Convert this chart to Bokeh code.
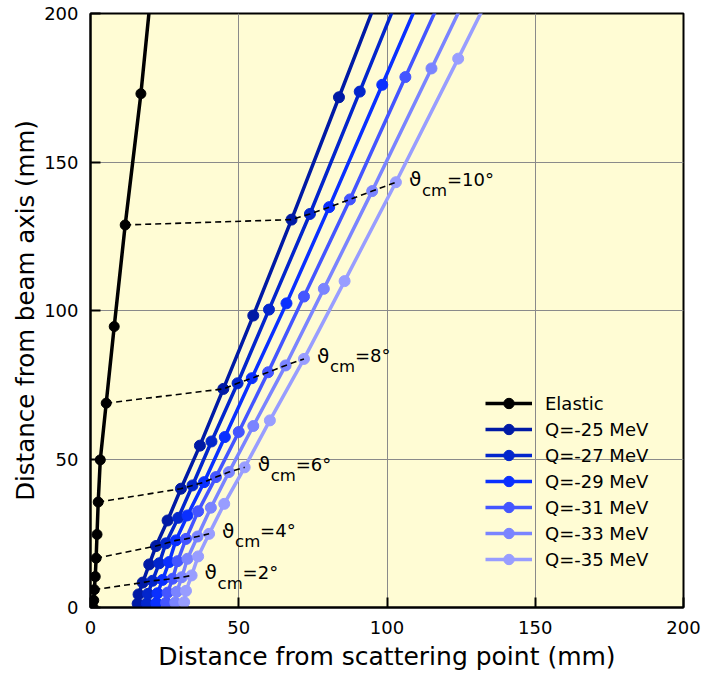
from bokeh.plotting import figure
from bokeh.models import Range1d, FixedTicker, Legend, LegendItem
from bokeh.core.properties import value
from bokeh.embed import file_html
from bokeh.resources import INLINE

# ---- data ----
# theta_cm = 0..12 deg (12 deg lies above the plotted range)
elastic_x = [0.9, 1.1, 1.3, 1.6, 1.9, 2.2, 2.6, 3.3, 5.3, 8.0, 11.7, 17.0, 22.5]
elastic_y = [0.0, 2.4, 6.0, 10.4, 16.6, 24.6, 35.5, 49.7, 68.8, 94.6, 128.8, 173.0, 228.0]

q25_x = [15.9, 16.2, 17.6, 19.8, 22.1, 26.0, 30.5, 36.9, 44.8, 54.9, 67.8, 83.8, 104.4]
q25_y = [1.3, 4.4, 8.4, 14.5, 20.7, 29.3, 40.0, 54.5, 73.6, 98.3, 130.6, 171.8, 225.0]
q27_x = [19.0, 19.4, 20.9, 23.2, 25.4, 29.6, 34.4, 40.8, 49.6, 60.2, 74.0, 90.8, 112.5]
q27_y = [1.4, 4.6, 9.0, 14.9, 21.6, 30.2, 41.1, 55.9, 75.5, 100.3, 132.5, 173.7, 227.0]
q29_x = [22.2, 22.6, 24.3, 26.5, 28.8, 32.7, 38.3, 45.3, 54.4, 66.1, 80.5, 98.4, 121.8]
q29_y = [1.5, 4.8, 9.3, 15.3, 22.6, 31.0, 42.2, 57.4, 77.2, 102.4, 134.8, 176.0, 230.0]
q31_x = [25.5, 26.0, 27.7, 29.4, 32.2, 36.3, 42.3, 50.0, 59.9, 72.0, 87.5, 106.2, 131.0]
q31_y = [1.6, 5.0, 9.7, 15.6, 23.1, 32.4, 43.9, 59.1, 79.2, 104.7, 137.4, 178.6, 233.0]
q33_x = [28.6, 29.1, 30.8, 32.7, 36.1, 40.6, 46.7, 54.9, 65.8, 78.7, 95.0, 115.0, 141.8]
q33_y = [1.7, 5.3, 10.2, 16.4, 23.9, 33.6, 45.6, 61.1, 81.5, 107.3, 140.2, 181.5, 237.0]
q35_x = [31.6, 32.2, 34.1, 36.3, 40.0, 45.1, 52.0, 60.5, 72.0, 85.7, 103.0, 124.0, 152.0]
q35_y = [1.8, 5.6, 10.8, 17.2, 24.8, 34.9, 47.2, 63.0, 83.7, 109.9, 143.2, 184.8, 241.0]

series_names = ["Q=-25 MeV", "Q=-27 MeV", "Q=-29 MeV", "Q=-31 MeV", "Q=-33 MeV", "Q=-35 MeV"]
series_x = [q25_x, q27_x, q29_x, q31_x, q33_x, q35_x]
series_y = [q25_y, q27_y, q29_y, q31_y, q33_y, q35_y]
series_colors = ["#001aa5", "#0326cc", "#0a30ff", "#4455ff", "#7a84ff", "#989dff"]

label_angles = [2, 4, 6, 8, 10]
label_texts = ["=2°", "=4°", "=6°", "=8°", "=10°"]

ticks = [0, 50, 100, 150, 200]

FONT = "DejaVu Sans"

p = figure(frame_width=593, frame_height=594,
           x_range=Range1d(0, 200), y_range=Range1d(0, 200),
           output_backend="svg", toolbar_location=None,
           min_border_left=90, min_border_right=18,
           min_border_top=13, min_border_bottom=66)

p.background_fill_color = "#fffcd4"
p.border_fill_color = "white"
p.outline_line_color = "black"
p.outline_line_width = 2

p.grid.grid_line_color = "#8a8a8a"
p.grid.grid_line_width = 1
for ax in (p.xaxis, p.yaxis):
    ax.ticker = FixedTicker(ticks=ticks)
    ax.major_tick_in = 10
    ax.major_tick_out = 0
    ax.major_tick_line_width = 2
    ax.minor_tick_line_color = None
    ax.axis_line_width = 2
    ax.major_label_text_font = FONT
    ax.major_label_text_font_size = "18px"
    ax.major_label_text_color = "black"
    ax.axis_label_text_font = FONT
    ax.axis_label_text_font_style = "normal"
    ax.axis_label_text_color = "black"

p.xaxis.axis_label = "Distance from scattering point (mm)"
p.yaxis.axis_label = "Distance from beam axis (mm)"
p.xaxis.axis_label_text_font_size = "25px"
p.yaxis.axis_label_text_font_size = "24.5px"
p.xaxis.major_label_standoff = 13
p.yaxis.major_label_standoff = 12
p.xaxis.axis_label_standoff = 5
p.yaxis.axis_label_standoff = 1

items = []
r_l = p.line(elastic_x, elastic_y, line_color="black", line_width=3.5)
r_m = p.scatter(elastic_x, elastic_y, size=10, fill_color="black", line_color="black")
items.append(LegendItem(label="Elastic", renderers=[r_l, r_m]))
for name, xs, ys, c in zip(series_names, series_x, series_y, series_colors):
    rl = p.line(xs, ys, line_color=c, line_width=3.5)
    rm = p.scatter(xs, ys, size=11, fill_color=c, line_color=c)
    items.append(LegendItem(label=name, renderers=[rl, rm]))

# dashed iso-angle lines
dash_xs = []
dash_ys = []
for a in label_angles:
    dash_xs.append([elastic_x[a]] + [s[a] for s in series_x])
    dash_ys.append([elastic_y[a]] + [s[a] for s in series_y])
p.multi_line(dash_xs, dash_ys, line_color="black", line_width=1.6, line_dash="6 4")

lx = [q35_x[a] for a in label_angles]
ly = [q35_y[a] for a in label_angles]
p.text(lx, ly, text=["ϑ"] * len(lx), text_font=value(FONT), text_font_size="20px",
       x_offset=13, y_offset=-3, text_baseline="middle", text_align="left", text_color="black")
p.text(lx, ly, text=["cm"] * len(lx), text_font=value(FONT), text_font_size="16.5px",
       x_offset=26, y_offset=8, text_baseline="middle", text_align="left", text_color="black")
p.text(lx, ly, text=label_texts, text_font=value(FONT), text_font_size="18px",
       x_offset=51, y_offset=-3, text_baseline="middle", text_align="left", text_color="black")

legend = Legend(items=items, location=(395, 35))
legend.background_fill_alpha = 0
legend.border_line_alpha = 0
legend.padding = 0
legend.margin = 0
legend.spacing = 0
legend.glyph_width = 47
legend.glyph_height = 26
legend.label_height = 26
legend.label_standoff = 13
legend.label_text_font = FONT
legend.label_text_font_size = "18px"
legend.label_text_color = "black"
p.add_layout(legend)

open("out.html", "w").write(file_html(p, INLINE))
